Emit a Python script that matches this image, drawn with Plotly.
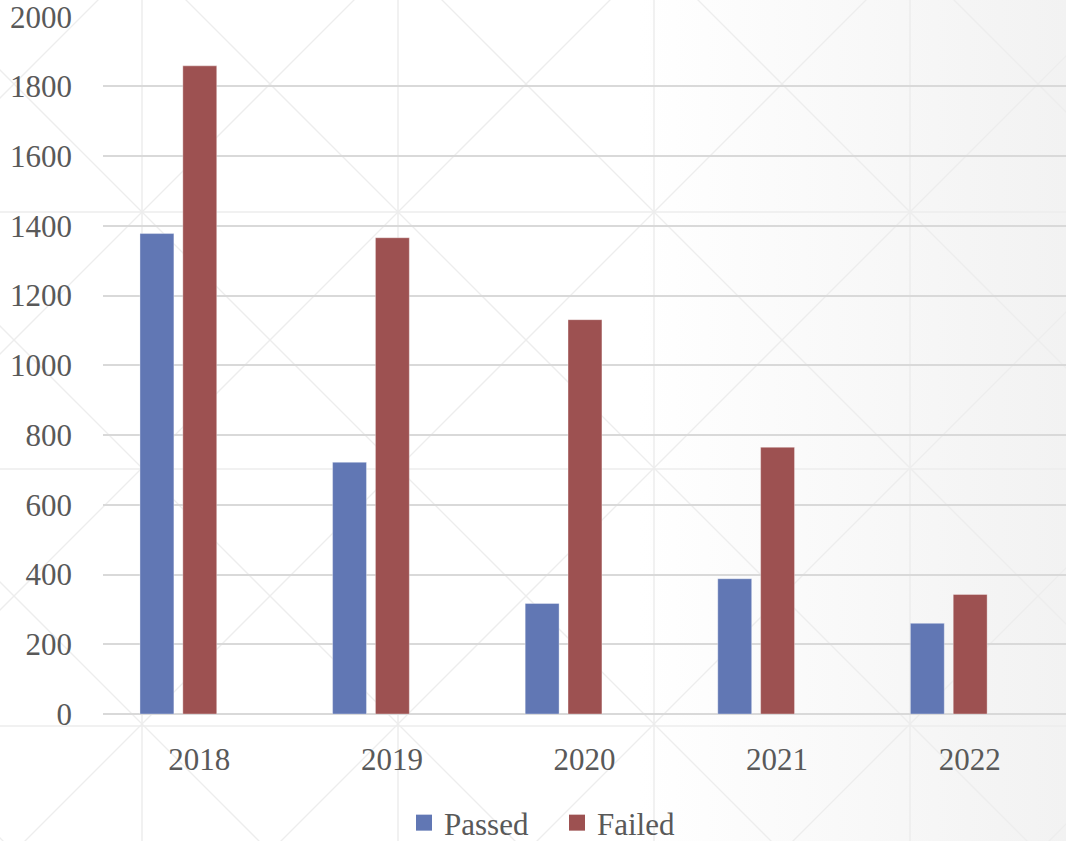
import base64
import plotly.graph_objects as go

years = ["2018", "2019", "2020", "2021", "2022"]
passed = [1378, 722, 317, 388, 260]
failed = [1859, 1366, 1131, 765, 343]
y_ticks = [0, 200, 400, 600, 800, 1000, 1200, 1400, 1600, 1800, 2000]

W, H = 1066, 841
ML, MR, MT, MB = 103, 0, 16, 127
PW, PH = W - ML - MR, H - MT - MB
YMAX = 2002

# background texture (gradient + faint diamond grid), as an SVG image
lines = []
col = "#ededed"
for k in range(-1, 6):
    x = 142 + 256 * k
    lines.append(f'<line x1="{x}" y1="0" x2="{x}" y2="{H}" stroke="{col}" stroke-width="1.5"/>')
for k in range(-1, 5):
    y = 212 + 257 * k
    lines.append(f'<line x1="0" y1="{y}" x2="{W}" y2="{y}" stroke="{col}" stroke-width="1.5"/>')
for k in range(-5, 10):
    c = -70 + 256 * k  # x - y = c
    lines.append(f'<line x1="{c - 100}" y1="-100" x2="{c + 1000}" y2="1000" stroke="{col}" stroke-width="1.3"/>')
for k in range(-2, 10):
    c = 354 + 256 * k  # x + y = c
    lines.append(f'<line x1="{c + 100}" y1="-100" x2="{c - 1000}" y2="1000" stroke="{col}" stroke-width="1.3"/>')

svg = (
    f'<svg xmlns="http://www.w3.org/2000/svg" width="{W}" height="{H}" viewBox="0 0 {W} {H}">'
    '<defs><linearGradient id="g" x1="0" y1="0" x2="1066" y2="0" gradientUnits="userSpaceOnUse">'
    '<stop offset="0.6" stop-color="#ffffff"/><stop offset="1" stop-color="#f2f2f2"/>'
    '</linearGradient></defs>'
    f'<rect x="0" y="0" width="{W}" height="{H}" fill="url(#g)"/>'
    + "".join(lines) + '</svg>'
)
src = "data:image/svg+xml;base64," + base64.b64encode(svg.encode()).decode()

FONT = "Palatino Linotype, Book Antiqua, Palatino, Liberation Serif, serif"
TXT = "#595959"
C_PASS, C_FAIL = "#6177B4", "#9D5151"

fig = go.Figure()
fig.add_trace(go.Bar(
    x=years, y=passed, name="Passed", showlegend=False,
    marker=dict(color=C_PASS, line=dict(color="rgba(255,255,255,0.35)", width=1)),
    width=0.176, offset=-0.308,
))
fig.add_trace(go.Bar(
    x=years, y=failed, name="Failed", showlegend=False,
    marker=dict(color=C_FAIL, line=dict(color="rgba(255,255,255,0.35)", width=1)),
    width=0.176, offset=-0.0855,
))
# legend proxies (larger square swatches)
for nm, c in (("Passed", C_PASS), ("Failed", C_FAIL)):
    fig.add_trace(go.Scatter(
        x=[None], y=[None], mode="markers", name=nm,
        marker=dict(symbol="square", size=16, color=c),
    ))

fig.update_layout(
    width=W, height=H,
    margin=dict(l=ML, r=MR, t=MT, b=MB, pad=0, autoexpand=False),
    paper_bgcolor="white",
    plot_bgcolor="rgba(0,0,0,0)",
    barmode="overlay",
    font=dict(family=FONT, size=31, color=TXT),
    showlegend=True,
    legend=dict(
        orientation="h", x=(404 - ML) / PW, xanchor="left",
        y=(714 - 823) / PH, yanchor="middle",
        entrywidth=108, entrywidthmode="pixels",
        font=dict(family=FONT, size=31, color=TXT),
        bgcolor="rgba(0,0,0,0)",
        traceorder="normal",
    ),
    images=[dict(
        source=src, xref="paper", yref="paper",
        x=-ML / PW, y=1 + MT / PH, sizex=W / PW, sizey=H / PH,
        xanchor="left", yanchor="top", sizing="stretch", layer="below",
    )],
)
fig.update_xaxes(
    type="category", range=[-0.5, 4.5], showgrid=False, showline=False,
    ticks="", ticklabelstandoff=24, tickfont=dict(family=FONT, size=31, color=TXT),
    automargin=False,
)
fig.update_yaxes(
    range=[0, YMAX], tickvals=y_ticks, ticktext=[str(v) for v in y_ticks],
    showgrid=True, gridcolor="#d9d9d9", gridwidth=1.5,
    zeroline=True, zerolinecolor="#d9d9d9", zerolinewidth=1.5,
    showline=False, ticks="", ticklabelstandoff=30, ticklabeloverflow="allow",
    tickfont=dict(family=FONT, size=31, color=TXT), automargin=False,
)

fig.write_html(
    "out.html",
    config={"displayModeBar": False},
    post_script="document.body.style.margin='0';document.body.style.padding='0';",
)
